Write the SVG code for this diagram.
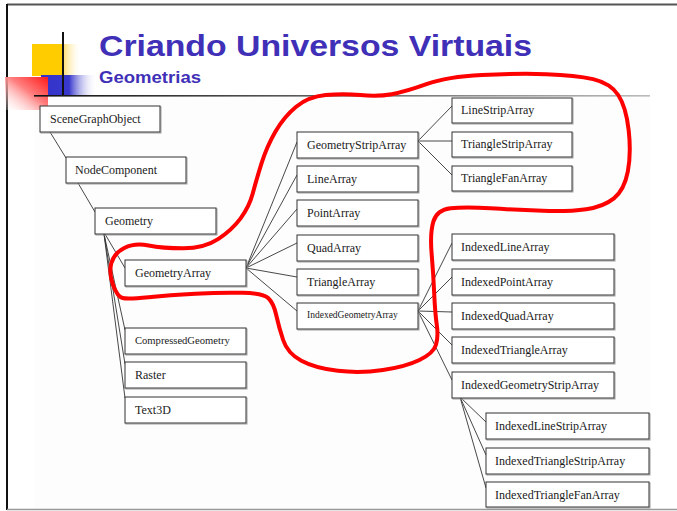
<svg xmlns="http://www.w3.org/2000/svg" width="677" height="511" viewBox="0 0 677 511">
  <defs>
    <linearGradient id="gYellow" x1="0" y1="0" x2="1" y2="0">
      <stop offset="0" stop-color="#ffcc00"/>
      <stop offset="0.6" stop-color="#ffcc00"/>
      <stop offset="0.64" stop-color="#ffe07a"/>
      <stop offset="1" stop-color="#ffffff" stop-opacity="0"/>
    </linearGradient>
    <linearGradient id="gBlue" x1="0" y1="0" x2="1" y2="0">
      <stop offset="0" stop-color="#3333cc"/>
      <stop offset="0.5" stop-color="#3838cc"/>
      <stop offset="1" stop-color="#ffffff" stop-opacity="0"/>
    </linearGradient>
    <linearGradient id="gRed" x1="1" y1="0" x2="0" y2="1">
      <stop offset="0" stop-color="#ff1a1a"/>
      <stop offset="0.45" stop-color="#ff8080"/>
      <stop offset="1" stop-color="#ffffff" stop-opacity="0.2"/>
    </linearGradient>
    <linearGradient id="gRule" x1="0" y1="0" x2="1" y2="0">
      <stop offset="0" stop-color="#111111"/>
      <stop offset="1" stop-color="#bbbbbb"/>
    </linearGradient>
  </defs>
  <style>
    .bx { fill: #ffffff; stroke: #333333; stroke-width: 1; }
    .sh { fill: none; stroke: #a0a0a0; stroke-width: 1; }
    .lb { font-family: "Liberation Serif", "Times New Roman", serif; font-size: 12px; fill: #1a1a1a; }
    .lb.sm { font-size: 10.6px; }
    .lb.xs { font-size: 9.5px; }
    .cn line { stroke: #333333; stroke-width: 0.9; }
    .ttl { font-family: "Liberation Sans", Arial, sans-serif; font-weight: bold; fill: #4030b8; }
  </style>

  <rect width="677" height="511" fill="#ffffff"/>
  <!-- diagram area -->
  <rect x="34" y="96" width="616" height="413" fill="#fdfdfd"/>

  <!-- slide frame -->
  <line x1="7" y1="4.5" x2="677" y2="4.5" stroke="#555555" stroke-width="2"/>
  <line x1="7" y1="4" x2="7" y2="510" stroke="#111111" stroke-width="2"/>
  <line x1="7" y1="509.5" x2="677" y2="509.5" stroke="#999999" stroke-width="1.5"/>

  <!-- title decoration -->
  <rect x="32" y="44" width="50" height="32" fill="url(#gYellow)"/>
  <rect x="41" y="75" width="56" height="20" fill="url(#gBlue)"/>
  <rect x="5" y="77" width="43" height="33" fill="url(#gRed)"/>
  <line x1="63" y1="32" x2="63" y2="96" stroke="#111111" stroke-width="2"/>
  <rect x="34" y="95" width="616" height="1.6" fill="url(#gRule)"/>

  <text class="ttl" x="99" y="56" font-size="29" textLength="433" lengthAdjust="spacingAndGlyphs">Criando Universos Virtuais</text>
  <text class="ttl" x="99" y="83" font-size="17" textLength="102" lengthAdjust="spacingAndGlyphs">Geometrias</text>

  <!-- connectors -->
  <g id="connectors" class="cn">
    <line x1="50" y1="132" x2="66" y2="158"/>
    <line x1="78" y1="183" x2="95" y2="212"/>
    <line x1="105" y1="234" x2="125" y2="268"/>
    <line x1="104" y1="234" x2="125" y2="330"/>
    <line x1="104" y1="234" x2="125" y2="364"/>
    <line x1="104" y1="234" x2="125" y2="398"/>
    <line x1="246" y1="268" x2="297" y2="142"/>
    <line x1="246" y1="268" x2="297" y2="175"/>
    <line x1="246" y1="268" x2="297" y2="209"/>
    <line x1="246" y1="268" x2="297" y2="243"/>
    <line x1="246" y1="268" x2="297" y2="277"/>
    <line x1="246" y1="268" x2="297" y2="311"/>
    <line x1="418" y1="141" x2="452" y2="106"/>
    <line x1="418" y1="141" x2="452" y2="141"/>
    <line x1="418" y1="141" x2="452" y2="175"/>
    <line x1="418" y1="311" x2="452" y2="243"/>
    <line x1="418" y1="311" x2="452" y2="277"/>
    <line x1="418" y1="311" x2="452" y2="312"/>
    <line x1="418" y1="311" x2="452" y2="345"/>
    <line x1="418" y1="311" x2="452" y2="380"/>
    <line x1="460" y1="397" x2="486" y2="422"/>
    <line x1="460" y1="397" x2="486" y2="455"/>
    <line x1="460" y1="397" x2="486" y2="488"/>
  </g>

  <!-- class boxes -->
  <g id="SceneGraphObject"><rect class="sh" x="41" y="107" width="120" height="26"/><rect class="bx" x="40" y="106" width="120" height="26"/><text class="lb" x="50" y="123">SceneGraphObject</text></g>
  <g id="NodeComponent"><rect class="sh" x="67" y="158" width="120" height="26"/><rect class="bx" x="66" y="157" width="120" height="26"/><text class="lb" x="75" y="174">NodeComponent</text></g>
  <g id="Geometry"><rect class="sh" x="96" y="209" width="121" height="26"/><rect class="bx" x="95" y="208" width="121" height="26"/><text class="lb" x="105" y="225">Geometry</text></g>
  <g id="GeometryArray"><rect class="sh" x="126" y="261" width="121" height="26"/><rect class="bx" x="125" y="260" width="121" height="26"/><text class="lb" x="135" y="277">GeometryArray</text></g>
  <g id="CompressedGeometry"><rect class="sh" x="126" y="329" width="121" height="26"/><rect class="bx" x="125" y="328" width="121" height="26"/><text class="lb sm" x="135" y="344">CompressedGeometry</text></g>
  <g id="Raster"><rect class="sh" x="126" y="363" width="121" height="26"/><rect class="bx" x="125" y="362" width="121" height="26"/><text class="lb" x="135" y="379">Raster</text></g>
  <g id="Text3D"><rect class="sh" x="126" y="398" width="121" height="26"/><rect class="bx" x="125" y="397" width="121" height="26"/><text class="lb" x="135" y="414">Text3D</text></g>

  <g id="GeometryStripArray"><rect class="sh" x="298" y="133" width="121" height="26"/><rect class="bx" x="297" y="132" width="121" height="26"/><text class="lb" x="307" y="149">GeometryStripArray</text></g>
  <g id="LineArray"><rect class="sh" x="298" y="167" width="121" height="26"/><rect class="bx" x="297" y="166" width="121" height="26"/><text class="lb" x="307" y="183">LineArray</text></g>
  <g id="PointArray"><rect class="sh" x="298" y="201" width="121" height="26"/><rect class="bx" x="297" y="200" width="121" height="26"/><text class="lb" x="307" y="217">PointArray</text></g>
  <g id="QuadArray"><rect class="sh" x="298" y="236" width="121" height="26"/><rect class="bx" x="297" y="235" width="121" height="26"/><text class="lb" x="307" y="252">QuadArray</text></g>
  <g id="TriangleArray"><rect class="sh" x="298" y="270" width="121" height="26"/><rect class="bx" x="297" y="269" width="121" height="26"/><text class="lb" x="307" y="286">TriangleArray</text></g>
  <g id="IndexedGeometryArray"><rect class="sh" x="298" y="304" width="121" height="26"/><rect class="bx" x="297" y="303" width="121" height="26"/><text class="lb xs" x="307" y="318">IndexedGeometryArray</text></g>

  <g id="LineStripArray"><rect class="sh" x="453" y="99" width="120" height="25"/><rect class="bx" x="452" y="98" width="120" height="25"/><text class="lb" x="461" y="114">LineStripArray</text></g>
  <g id="TriangleStripArray"><rect class="sh" x="453" y="133" width="120" height="25"/><rect class="bx" x="452" y="132" width="120" height="25"/><text class="lb" x="461" y="148">TriangleStripArray</text></g>
  <g id="TriangleFanArray"><rect class="sh" x="453" y="167" width="120" height="25"/><rect class="bx" x="452" y="166" width="120" height="25"/><text class="lb" x="461" y="182">TriangleFanArray</text></g>

  <g id="IndexedLineArray"><rect class="sh" x="453" y="235" width="162" height="26"/><rect class="bx" x="452" y="234" width="162" height="26"/><text class="lb" x="461" y="251">IndexedLineArray</text></g>
  <g id="IndexedPointArray"><rect class="sh" x="453" y="270" width="162" height="26"/><rect class="bx" x="452" y="269" width="162" height="26"/><text class="lb" x="461" y="286">IndexedPointArray</text></g>
  <g id="IndexedQuadArray"><rect class="sh" x="453" y="304" width="162" height="26"/><rect class="bx" x="452" y="303" width="162" height="26"/><text class="lb" x="461" y="320">IndexedQuadArray</text></g>
  <g id="IndexedTriangleArray"><rect class="sh" x="453" y="338" width="162" height="26"/><rect class="bx" x="452" y="337" width="162" height="26"/><text class="lb" x="461" y="354">IndexedTriangleArray</text></g>
  <g id="IndexedGeometryStripArray"><rect class="sh" x="453" y="373" width="162" height="26"/><rect class="bx" x="452" y="372" width="162" height="26"/><text class="lb" x="461" y="389">IndexedGeometryStripArray</text></g>

  <g id="IndexedLineStripArray"><rect class="sh" x="487" y="414" width="163" height="26"/><rect class="bx" x="486" y="413" width="163" height="26"/><text class="lb" x="495" y="430">IndexedLineStripArray</text></g>
  <g id="IndexedTriangleStripArray"><rect class="sh" x="487" y="449" width="163" height="26"/><rect class="bx" x="486" y="448" width="163" height="26"/><text class="lb" x="495" y="465">IndexedTriangleStripArray</text></g>
  <g id="IndexedTriangleFanArray"><rect class="sh" x="487" y="483" width="163" height="25"/><rect class="bx" x="486" y="482" width="163" height="25"/><text class="lb" x="495" y="499">IndexedTriangleFanArray</text></g>

  <!-- hand-drawn highlight loop -->
  <path id="highlight" fill="none" stroke="#ff0000" stroke-width="4" stroke-linecap="round" stroke-linejoin="round"
    d="M124.3,248 Q113.9,253.3 111.3,263.3 Q108.7,273.3 113.05,285 Q117.4,296.7 122.6,298 Q127.8,299.3 148.6,297.15
       Q169.4,295 195.45,293.65 Q221.5,292.3 242.35,292.8 Q263.2,293.3 268.4,298.3 Q273.6,303.3 276.2,315
       Q278.8,326.7 283.15,340 Q287.5,353.3 301.4,360.8 Q315.3,368.3 337.85,370.8 Q360.4,373.3 383,370
       Q405.6,366.7 419.45,360 Q433.3,353.3 435.9,345 Q438.5,336.7 436.8,325 Q435.1,313.3 434.2,293.3
       Q433.3,273.3 431.6,253.3 Q429.9,233.3 433.35,221.65 Q436.8,210 450.7,208.35 Q464.6,206.7 490.65,208.35
       Q516.7,210 542.75,210.85 Q568.8,211.7 586.15,209.2 Q603.5,206.7 613.9,198.35 Q624.3,190 627.8,171.65
       Q631.3,153.3 628.65,130 Q626,106.7 618.2,95 Q610.4,83.3 593.05,79.15 Q575.7,75 546.2,74.15
       Q516.7,73.3 481.95,75 Q447.2,76.7 426.4,84.2 Q405.6,91.7 391.7,94.2 Q377.8,96.7 360.4,95
       Q343,93.3 325.65,95 Q308.3,96.7 296.15,106.7 Q284,116.7 275.35,131.7 Q266.7,146.7 261.5,163.35
       Q256.3,180 252.8,193.35 Q249.3,206.7 240.6,218.35 Q231.9,230 218.05,239.15 Q204.2,248.3 183.35,248.3
       Q162.5,248.3 148.6,245.5 Q134.7,242.7 124.3,248 Z"/>
</svg>
